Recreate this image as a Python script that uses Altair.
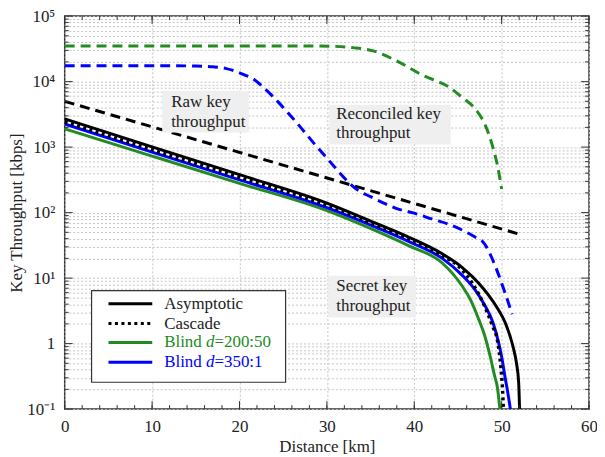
import altair as alt
import pandas as pd

# ---------------- data ----------------
raw_x = [0, 52]
raw_y = [5000, 47]

rec_green_x = [0, 10, 20, 28, 31, 33, 35.3, 37.9, 41.0, 44.0, 45.5, 47.0, 48.1, 48.9, 49.5, 50.0]
rec_green_y = [35000, 35000, 35000, 35000, 34500, 33000, 29500, 21000, 12400, 8200, 5700, 3800, 2200, 1100, 540, 230]

rec_blue_x = [0, 10, 15, 17, 18.5, 19.5, 20.5, 21.7, 22.8, 24, 25.5, 27, 28.5, 30, 31.5, 32.6, 33.7,
              35, 36.5, 38, 40, 42, 44, 46, 47, 48, 48.9, 49.6, 50.4, 51.2]
rec_blue_y = [17500, 17500, 17300, 16800, 15800, 14500, 12800, 10700, 8000, 5600, 3400, 2000, 1150, 680,
              400, 280, 213, 175, 140, 115, 98, 80, 66, 50, 42, 34, 20, 11.7, 5.9, 2.8]

asym_x = [0, 10, 20, 30, 35.7, 39.4, 43.2, 45.5, 47.4, 48.5, 49.5, 50.4, 51.3, 51.7, 51.95, 52.05]
asym_y = [2700, 1010, 380, 140, 68, 42, 23.5, 14.5, 8.3, 5.5, 3.5, 2.1, 0.9, 0.5, 0.25, 0.1]

casc_x = [0, 10, 20, 30, 35.7, 39.4, 43.2, 45.1, 46.6, 48.1, 49.0, 49.5, 49.9, 50.1, 50.2]
casc_y = [2450, 910, 345, 130, 64, 40, 22, 15, 8.5, 3.6, 1.8, 1.15, 0.45, 0.2, 0.1]

green_x = [0, 10, 20, 30, 35.7, 39.4, 43.2, 45.5, 46.5, 47.4, 48.0, 48.7, 49.2, 49.5, 49.8]
green_y = [1900, 730, 280, 107, 52, 31, 17, 7.5, 4.5, 2.3, 1.4, 0.63, 0.32, 0.22, 0.1]

blue_x = [0, 10, 20, 30, 35.7, 39.4, 43.2, 45.5, 47.0, 48.0, 49.0, 49.6, 50.0, 50.4, 50.7, 51.0]
blue_y = [2250, 840, 316, 119, 59, 36, 20, 11, 6.5, 4.0, 2.1, 1.1, 0.63, 0.3, 0.18, 0.1]

x_major = [0, 10, 20, 30, 40, 50, 60]
x_minor = list(range(0, 61, 2))
y_major = [0.1, 1, 10, 100, 1000, 10000, 100000]
y_minor = [round(m * d, 6) for d in [0.1, 1, 10, 100, 1000, 10000] for m in range(2, 10)]
y_labels = ["10⁻¹", "1", "10¹", "10²", "10³", "10⁴", "10⁵"]

GREEN = "#228B22"
BLUE = "#0000FF"
BLACK = "#000000"
FONT = "Liberation Serif"

W, H = 527, 395

xs = alt.Scale(domain=[0, 60], nice=False, zero=False)
ys = alt.Scale(type="log", domain=[0.1, 100000], nice=False)

label_expr = " : ".join(
    f"datum.value == {v} ? '{l}'" for v, l in zip(y_major, y_labels)
) + " : ''"

x_axis = alt.Axis(values=x_major, title="Distance [km]", grid=True, gridColor="#c4c4c4",
                  gridDash=[2, 2], gridWidth=1, ticks=False, domain=False, labelFont=FONT,
                  labelFontSize=17, labelColor="#222", labelPadding=10, labelFlush=False,
                  titleFont=FONT, titleFontSize=17, titleFontWeight="normal", titleColor="#222",
                  titlePadding=4)
y_axis = alt.Axis(values=sorted(y_major + y_minor), labelExpr=label_expr, labelOverlap=False,
                  title="Key Throughput [kbps]", grid=True, gridColor="#c4c4c4", gridDash=[2, 2],
                  gridWidth=1, ticks=False, domain=False, labelFont=FONT, labelFontSize=17,
                  labelColor="#222", labelPadding=10, labelFlush=False, titleFont=FONT,
                  titleFontSize=17, titleFontWeight="normal", titleColor="#222", titlePadding=1)

X = lambda f="x": alt.X(f"{f}:Q", scale=xs, axis=x_axis, title="Distance [km]")
Y = lambda f="y": alt.Y(f"{f}:Q", scale=ys, axis=y_axis, title="Key Throughput [kbps]")


def series(xv, yv, color, dash=None, width=3):
    df = pd.DataFrame({"x": xv, "y": yv})
    kw = dict(color=color, strokeWidth=width, clip=True, interpolate="monotone")
    if dash:
        kw["strokeDash"] = dash
    return alt.Chart(df).mark_line(**kw).encode(x=X(), y=Y())


layers = [
    series(raw_x, raw_y, BLACK, dash=[10, 6]),
    series(rec_green_x, rec_green_y, GREEN, dash=[10, 6]),
    series(rec_blue_x, rec_blue_y, BLUE, dash=[10, 6]),
    series(green_x, green_y, GREEN),
    series(blue_x, blue_y, BLUE),
    series(asym_x, asym_y, BLACK),
    series(casc_x, casc_y, BLACK, dash=[3, 3.5], width=3.5),
]

# ---- inward ticks on all four sides ----
def xticks(vals, length):
    df = pd.DataFrame({"x": vals})
    base = alt.Chart(df).mark_rule(color="#333", strokeWidth=1)
    return [
        base.encode(x=X(), y=alt.value(H), y2=alt.value(H - length)),
        base.encode(x=X(), y=alt.value(0), y2=alt.value(length)),
    ]


def yticks(vals, length):
    df = pd.DataFrame({"y": vals})
    base = alt.Chart(df).mark_rule(color="#333", strokeWidth=1)
    return [
        base.encode(y=Y(), x=alt.value(0), x2=alt.value(length)),
        base.encode(y=Y(), x=alt.value(W), x2=alt.value(W - length)),
    ]


layers += xticks(x_major, 8) + xticks(x_minor, 4) + yticks(y_major, 8) + yticks(y_minor, 4)

# ---- annotation boxes ----
def box(x0, x1, y0, y1, fill="#efefef", stroke=None):
    kw = dict(fill=fill)
    if stroke:
        kw.update(stroke=stroke, strokeWidth=1.2)
    return alt.Chart(pd.DataFrame({"a": [0]})).mark_rect(**kw).encode(
        x=alt.value(x0), x2=alt.value(x1), y=alt.value(y0), y2=alt.value(y1))


def label(txt, x, y, color="#222", style="normal"):
    return alt.Chart(pd.DataFrame({"a": [0]})).mark_text(
        text=txt, align="left", baseline="middle", font=FONT, fontSize=17,
        color=color, fontStyle=style).encode(x=alt.value(x), y=alt.value(y))


layers += [
    box(98, 185, 75, 117), label("Raw key", 107, 86), label("throughput", 107, 106),
    box(266, 388, 89, 129), label("Reconciled key", 273, 98), label("throughput", 273, 118),
    box(265, 353, 261, 303), label("Secret key", 273, 271), label("throughput", 273, 291),
]

# ---- legend ----
def legend_line(y, color, dash=None):
    kw = dict(color=color, strokeWidth=3)
    if dash:
        kw["strokeDash"] = dash
    return alt.Chart(pd.DataFrame({"a": [0]})).mark_rule(**kw).encode(
        x=alt.value(44), x2=alt.value(88), y=alt.value(y))


layers += [
    box(27, 222, 276, 368, fill="white", stroke="#333"),
    legend_line(289, BLACK), label("Asymptotic", 100, 289),
    legend_line(309, BLACK, [3, 3.5]), label("Cascade", 100, 309),
    legend_line(328, GREEN), label("Blind", 100, 328, GREEN),
    label("d", 142, 328, GREEN, "italic"), label("=200:50", 150.5, 328, GREEN),
    legend_line(348, BLUE), label("Blind", 100, 348, BLUE),
    label("d", 142, 348, BLUE, "italic"), label("=350:1", 150.5, 348, BLUE),
]

chart = alt.layer(*layers).properties(
    width=W, height=H,
    autosize=alt.AutoSizeParams(type="none"),
    padding={"left": 57, "top": 7, "right": 8, "bottom": 47},
    background="white",
).configure_view(stroke="#333", strokeWidth=1.5)

chart.save("out.html", embed_options={"renderer": "svg", "actions": False})
